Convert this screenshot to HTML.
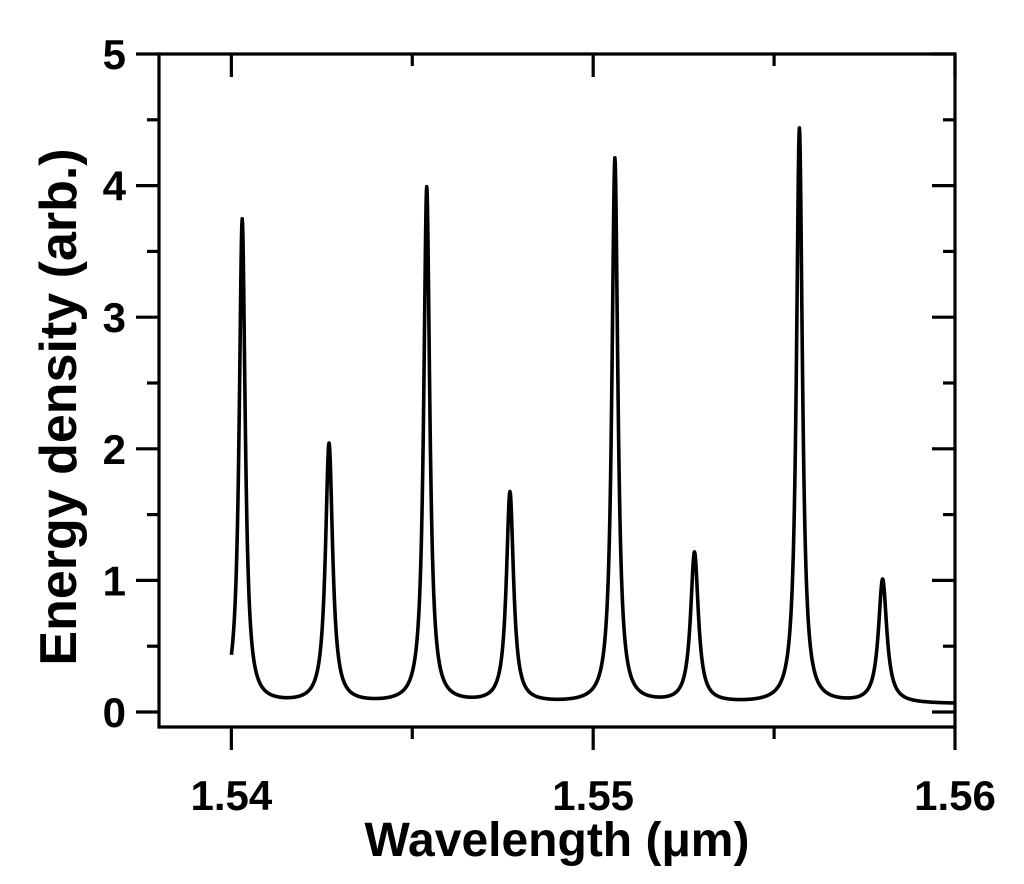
<!DOCTYPE html>
<html><head><meta charset="utf-8">
<style>
html,body{margin:0;padding:0;background:#fff;}
svg{display:block;font-family:"Liberation Sans",Arial,sans-serif;font-weight:bold;}
</style></head>
<body>
<svg id="chart" width="1024" height="884" viewBox="0 0 1024 884" xmlns="http://www.w3.org/2000/svg">
<g id="axes"></g>
<path id="curve" fill="none" stroke="#000" stroke-width="3.6" stroke-linejoin="round"/>
<text transform="translate(76,407) rotate(-90)" text-anchor="middle" font-size="52">Energy density (arb.)</text>
<text x="557" y="856" text-anchor="middle" font-size="48">Wavelength (μm)</text>
</svg>
<script>
const peakWavelengths = [1.5403, 1.5427, 1.5454, 1.5477, 1.5506, 1.5528, 1.5557, 1.5580];
const peakHeights = [3.68, 1.97, 3.92, 1.6, 4.14, 1.14, 4.37, 0.94];
const peakWidths = [0.0001, 0.00012, 0.0001, 0.00012, 0.0001, 0.00013, 0.0001, 0.00014];
const baseline = 0.06;
const xTicks = [1.54, 1.55, 1.56];
const xMinorTicks = [1.545, 1.555];
const yTicks = [0, 1, 2, 3, 4, 5];
const yMinorTicks = [0.5, 1.5, 2.5, 3.5, 4.5];

const X0=1.538, X1=1.56, PX0=159, PX1=955;
const Y0=0, Y1=5, PY0=712, PY1=54;
const sx=v=>PX0+(v-X0)/(X1-X0)*(PX1-PX0);
const sy=v=>PY0-(v-Y0)/(Y1-Y0)*(PY0-PY1);
const NS="http://www.w3.org/2000/svg";
const axes=document.getElementById('axes');
function line(x1,y1,x2,y2,name){
  const l=document.createElementNS(NS,'line');
  l.setAttribute('x1',x1);l.setAttribute('y1',y1);l.setAttribute('x2',x2);l.setAttribute('y2',y2);
  l.setAttribute('stroke','#000');l.setAttribute('stroke-width','3.2');
  
  
  axes.appendChild(l);
}
function text(x,y,s,anchor,name){
  const t=document.createElementNS(NS,'text');
  t.setAttribute('x',x);t.setAttribute('y',y);t.setAttribute('text-anchor',anchor);
  t.setAttribute('font-size','42');t.textContent=s;
  
  
  axes.appendChild(t);
}
const BOT=727;
line(PX0,PY1-1.6,PX0,BOT+1.6,'y-axis-line');
line(PX0,PY1,PX1,PY1,'plot-frame-top');
line(PX0,BOT,PX1,BOT,'x-axis-line');
line(PX1,PY1-1.6,PX1,BOT+1.6,'plot-frame-right');
xTicks.forEach(v=>{const x=sx(v);line(x,BOT,x,BOT+23,'x-tick');line(x,PY1,x,PY1+23,'x-tick-top');text(x,810,v.toFixed(2),'middle','x-tick-label');});
xMinorTicks.forEach(v=>{const x=sx(v);line(x,BOT,x,BOT+12,'x-minor-tick');line(x,PY1,x,PY1+12,'x-minor-tick-top');});
yTicks.forEach(v=>{const y=sy(v);line(PX0-23,y,PX0,y,'y-tick');line(PX1-23,y,PX1,y,'y-tick-right');text(PX0-33,y+15,String(v),'end','y-tick-label');});
yMinorTicks.forEach(v=>{const y=sy(v);line(PX0-12,y,PX0,y,'y-minor-tick');line(PX1-12,y,PX1,y,'y-minor-tick-right');});
let d='';
for(let x=1.54;x<=1.56+1e-9;x+=0.00001){
  let v=baseline;
  for(let i=0;i<peakWavelengths.length;i++){const g=peakWidths[i];const dx=x-peakWavelengths[i];v+=peakHeights[i]*g*g/(dx*dx+g*g);}
  d+=(d?'L':'M')+sx(x).toFixed(2)+','+sy(v).toFixed(2);
}
document.getElementById('curve').setAttribute('d',d);
</script>
</body></html>
